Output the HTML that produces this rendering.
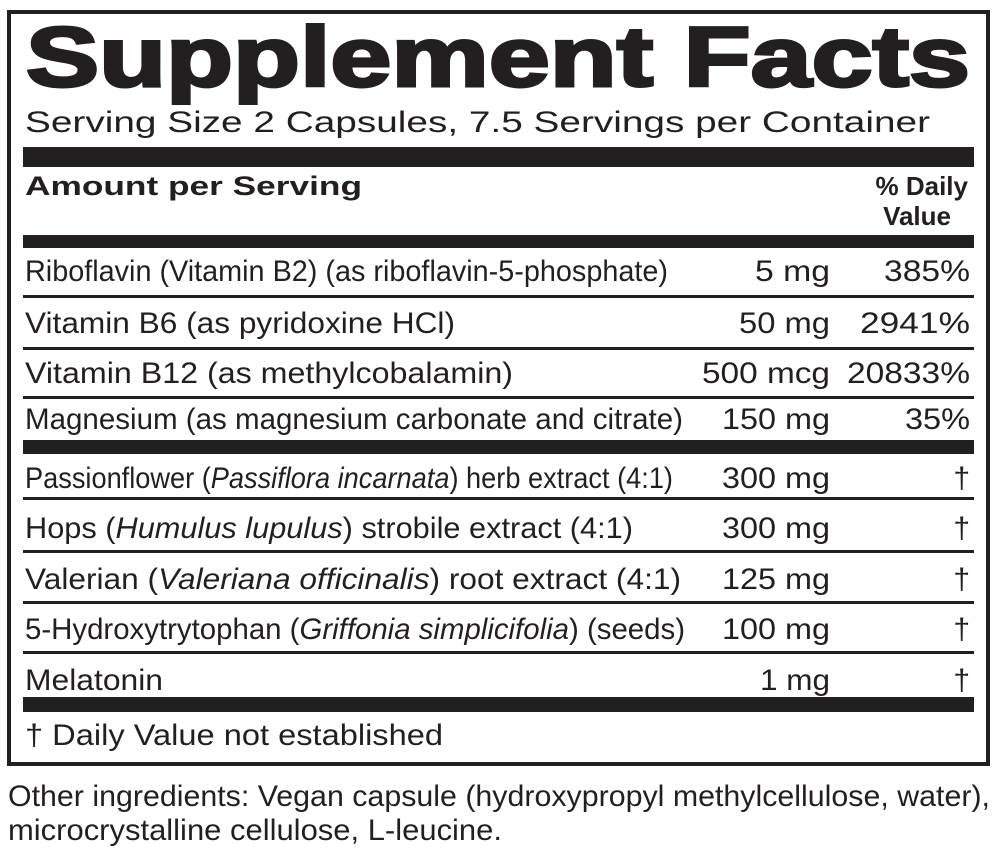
<!DOCTYPE html>
<html><head><style>body{margin:0;background:#fff}svg{display:block}text{font-family:"Liberation Sans",Arial,sans-serif;fill:#231f20}</style></head>
<body>
<svg width="1000" height="861" viewBox="0 0 1000 861">
<rect x="9" y="12" width="979" height="752" fill="none" stroke="#231f20" stroke-width="4"/>
<text x="26" y="86" font-size="84" font-weight="bold" stroke="#231f20" stroke-width="3" textLength="944" lengthAdjust="spacingAndGlyphs">Supplement Facts</text>
<text x="25" y="132" font-size="30" textLength="905" lengthAdjust="spacingAndGlyphs">Serving Size 2 Capsules, 7.5 Servings per Container</text>
<rect x="23" y="147" width="951" height="20" fill="#231f20"/>
<text x="25" y="195" font-size="27" font-weight="bold" textLength="337" lengthAdjust="spacingAndGlyphs">Amount per Serving</text>
<text x="968" y="195" font-size="26" font-weight="bold" text-anchor="end">% Daily</text>
<text x="951" y="225" font-size="26" font-weight="bold" text-anchor="end">Value</text>
<rect x="23" y="235" width="951" height="13" fill="#231f20"/>
<g font-size="30">
<text x="25" y="281" textLength="643" lengthAdjust="spacingAndGlyphs">Riboflavin (Vitamin B2) (as riboflavin-5-phosphate)</text>
<text x="830" y="281" text-anchor="end" textLength="75" lengthAdjust="spacingAndGlyphs">5 mg</text><text x="970" y="281" text-anchor="end" textLength="86" lengthAdjust="spacingAndGlyphs">385%</text>
<rect x="23" y="295" width="951" height="3" fill="#231f20"/>
<text x="25" y="333" textLength="430" lengthAdjust="spacingAndGlyphs">Vitamin B6 (as pyridoxine HCl)</text>
<text x="830" y="333" text-anchor="end" textLength="91" lengthAdjust="spacingAndGlyphs">50 mg</text><text x="970" y="333" text-anchor="end" textLength="110" lengthAdjust="spacingAndGlyphs">2941%</text>
<rect x="23" y="347" width="951" height="3" fill="#231f20"/>
<text x="25" y="383" textLength="488" lengthAdjust="spacingAndGlyphs">Vitamin B12 (as methylcobalamin)</text>
<text x="830" y="383" text-anchor="end" textLength="128" lengthAdjust="spacingAndGlyphs">500 mcg</text><text x="970" y="383" text-anchor="end" textLength="123" lengthAdjust="spacingAndGlyphs">20833%</text>
<rect x="23" y="396" width="951" height="3" fill="#231f20"/>
<text x="25" y="429" textLength="658" lengthAdjust="spacingAndGlyphs">Magnesium (as magnesium carbonate and citrate)</text>
<text x="830" y="429" text-anchor="end" textLength="108" lengthAdjust="spacingAndGlyphs">150 mg</text><text x="970" y="429" text-anchor="end" textLength="65" lengthAdjust="spacingAndGlyphs">35%</text>
<rect x="23" y="440" width="951" height="14" fill="#231f20"/>
<text x="25" y="488" textLength="648" lengthAdjust="spacingAndGlyphs">Passionflower (<tspan font-style="italic">Passiflora incarnata</tspan>) herb extract (4:1)</text>
<text x="830" y="488" text-anchor="end" textLength="108" lengthAdjust="spacingAndGlyphs">300 mg</text><text x="970" y="488" text-anchor="end">†</text>
<rect x="23" y="497" width="951" height="3" fill="#231f20"/>
<text x="25" y="538" textLength="608" lengthAdjust="spacingAndGlyphs">Hops (<tspan font-style="italic">Humulus lupulus</tspan>) strobile extract (4:1)</text>
<text x="830" y="538" text-anchor="end" textLength="108" lengthAdjust="spacingAndGlyphs">300 mg</text><text x="970" y="538" text-anchor="end">†</text>
<rect x="23" y="550" width="951" height="3" fill="#231f20"/>
<text x="25" y="589" textLength="656" lengthAdjust="spacingAndGlyphs">Valerian (<tspan font-style="italic">Valeriana officinalis</tspan>) root extract (4:1)</text>
<text x="830" y="589" text-anchor="end" textLength="108" lengthAdjust="spacingAndGlyphs">125 mg</text><text x="970" y="589" text-anchor="end">†</text>
<rect x="23" y="601" width="951" height="3" fill="#231f20"/>
<text x="25" y="639" textLength="660" lengthAdjust="spacingAndGlyphs">5-Hydroxytrytophan (<tspan font-style="italic">Griffonia simplicifolia</tspan>) (seeds)</text>
<text x="830" y="639" text-anchor="end" textLength="108" lengthAdjust="spacingAndGlyphs">100 mg</text><text x="970" y="639" text-anchor="end">†</text>
<rect x="23" y="651" width="951" height="3" fill="#231f20"/>
<text x="25" y="690" textLength="138" lengthAdjust="spacingAndGlyphs">Melatonin</text>
<text x="830" y="690" text-anchor="end" textLength="70" lengthAdjust="spacingAndGlyphs">1 mg</text><text x="970" y="690" text-anchor="end">†</text>
<rect x="23" y="697" width="951" height="15" fill="#231f20"/>
<text x="25" y="745" textLength="418" lengthAdjust="spacingAndGlyphs">†  Daily Value not established</text>
<text x="8" y="806" textLength="982" lengthAdjust="spacingAndGlyphs">Other ingredients: Vegan capsule (hydroxypropyl methylcellulose, water),</text>
<text x="8" y="840" textLength="494" lengthAdjust="spacingAndGlyphs">microcrystalline cellulose, L-leucine.</text>
</g>
</svg>
</body></html>
